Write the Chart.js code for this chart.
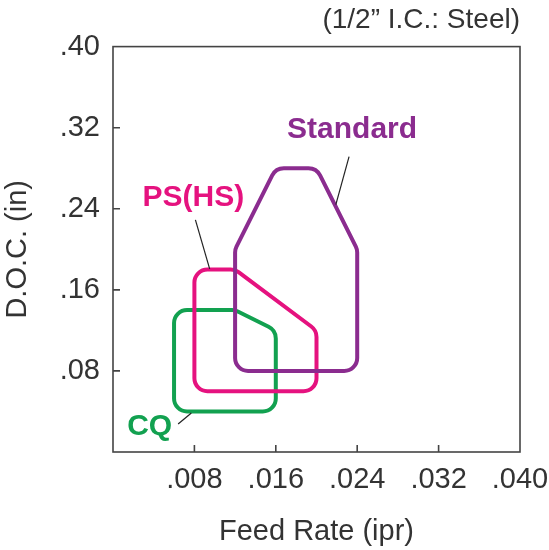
<!DOCTYPE html>
<html>
<head>
<meta charset="utf-8">
<script src="https://cdn.jsdelivr.net/npm/chart.js@4/dist/chart.umd.min.js"></script>
<style>
  html, body { margin: 0; padding: 0; background: #fff; }
</style>
</head>
<body>
<canvas id="chart" width="549" height="550"></canvas>
<script>
/* =========================
   DATA
========================= */
const xTicks = [0.008, 0.016, 0.024, 0.032, 0.040];
const xTickLabels = [".008", ".016", ".024", ".032", ".040"];
const yTicks = [0.08, 0.16, 0.24, 0.32, 0.40];
const yTickLabels = [".08", ".16", ".24", ".32", ".40"];

// outline vertices (feed rate ipr, depth of cut in)
const standardFeed = [0.012, 0.012, 0.016, 0.020, 0.024, 0.024];
const standardDoc = [0.08, 0.20, 0.28, 0.28, 0.20, 0.08];

const pshsFeed = [0.008, 0.008, 0.012, 0.020, 0.020];
const pshsDoc = [0.06, 0.18, 0.18, 0.12, 0.06];

const cqFeed = [0.006, 0.006, 0.012, 0.016, 0.016];
const cqDoc = [0.04, 0.14, 0.14, 0.12, 0.04];

const pts = (xs, ys) => xs.map((x, i) => ({ x: x, y: ys[i] }));

/* =========================
   LABELS + LEADER LINES
========================= */
const callouts = [
  { text: "Standard", color: "#8B2C8F", at: [0.0235, 0.318], line: [[0.0232, 0.2914], [0.0219, 0.2440]] },
  { text: "PS(HS)", color: "#E5127F", at: [0.0079, 0.251], line: [[0.0081, 0.2291], [0.0095, 0.1807]] },
  { text: "CQ", color: "#12A150", at: [0.0036, 0.025], line: [[0.0064, 0.0277], [0.0077, 0.0385]] }
];

Chart.defaults.font.family = '"Liberation Sans", Arial, Helvetica, sans-serif';
Chart.defaults.color = "#333";

// draws each outline as a closed polygon with rounded corners
const roundedOutline = {
  id: "roundedOutline",
  beforeDatasetDraw(chart, args) {
    const ds = chart.data.datasets[args.index];
    const p = args.meta.data;
    const n = p.length;
    const ctx = chart.ctx;
    ctx.save();
    ctx.beginPath();
    ctx.moveTo((p[n - 1].x + p[0].x) / 2, (p[n - 1].y + p[0].y) / 2);
    for (let i = 0; i < n; i++) {
      const a = p[i], b = p[(i + 1) % n];
      ctx.arcTo(a.x, a.y, b.x, b.y, ds.cornerRadius);
    }
    ctx.closePath();
    ctx.lineWidth = ds.borderWidth;
    ctx.strokeStyle = ds.borderColor;
    ctx.lineJoin = "round";
    ctx.stroke();
    ctx.restore();
    return false;
  }
};

// frame round the plot and small ticks pointing inward
const frameAndTicks = {
  id: "frameAndTicks",
  beforeDatasetsDraw(chart) {
    const { ctx, chartArea: a, scales: { x, y } } = chart;
    ctx.save();
    ctx.strokeStyle = "#444";
    ctx.lineWidth = 1.6;
    ctx.strokeRect(a.left, a.top, a.right - a.left, a.bottom - a.top);
    ctx.beginPath();
    x.ticks.forEach(t => {
      const px = x.getPixelForValue(t.value);
      if (px < a.right - 2) {
        ctx.moveTo(px, a.bottom);
        ctx.lineTo(px, a.bottom - 7);
      }
    });
    y.ticks.forEach(t => {
      const py = y.getPixelForValue(t.value);
      if (py > a.top + 2) {
        ctx.moveTo(a.left, py);
        ctx.lineTo(a.left + 7, py);
      }
    });
    ctx.stroke();
    ctx.restore();
  }
};

const calloutPlugin = {
  id: "callouts",
  afterDatasetsDraw(chart) {
    const { ctx, scales: { x, y } } = chart;
    ctx.save();
    callouts.forEach(c => {
      ctx.strokeStyle = "#222";
      ctx.lineWidth = 1.2;
      ctx.beginPath();
      ctx.moveTo(x.getPixelForValue(c.line[0][0]), y.getPixelForValue(c.line[0][1]));
      ctx.lineTo(x.getPixelForValue(c.line[1][0]), y.getPixelForValue(c.line[1][1]));
      ctx.stroke();

      ctx.fillStyle = c.color;
      ctx.font = 'bold 30px "Liberation Sans", Arial, sans-serif';
      ctx.textAlign = "center";
      ctx.textBaseline = "middle";
      ctx.fillText(c.text, x.getPixelForValue(c.at[0]), y.getPixelForValue(c.at[1]));
    });
    ctx.restore();
  }
};

new Chart(document.getElementById("chart"), {
  type: "scatter",
  data: {
    datasets: [
      { label: "Standard", data: pts(standardFeed, standardDoc), borderColor: "#8B2C8F", borderWidth: 4, cornerRadius: 13, pointRadius: 0, order: 1 },
      { label: "PS(HS)", data: pts(pshsFeed, pshsDoc), borderColor: "#E5127F", borderWidth: 4, cornerRadius: 13, pointRadius: 0, order: 2 },
      { label: "CQ", data: pts(cqFeed, cqDoc), borderColor: "#12A150", borderWidth: 4, cornerRadius: 13, pointRadius: 0, order: 3 }
    ]
  },
  options: {
    responsive: false,
    animation: false,
    layout: { padding: { left: 0, right: 29, top: 0, bottom: 0 } },
    plugins: {
      legend: { display: false },
      tooltip: { enabled: false },
      title: {
        display: true,
        text: "(1/2\u201D I.C.: Steel)",
        align: "end",
        color: "#333",
        font: { size: 28, weight: "normal" },
        padding: { top: 3, bottom: 10 }
      }
    },
    scales: {
      x: {
        type: "linear",
        min: 0,
        max: 0.040,
        afterBuildTicks: s => { s.ticks = xTicks.map(v => ({ value: v })); },
        afterFit: s => {
          s.height = 98;
          s.paddingLeft = 0;
          s.paddingRight = 0;
        },
        grid: { display: false, drawTicks: false },
        border: { display: false },
        ticks: {
          padding: 11,
          maxRotation: 0,
          autoSkip: false,
          font: { size: 29 },
          callback: (v, i) => xTickLabels[i]
        },
        title: { display: true, text: "Feed Rate (ipr)", font: { size: 29 }, padding: { top: 0, bottom: 1 } }
      },
      y: {
        type: "linear",
        min: 0,
        max: 0.40,
        afterBuildTicks: s => { s.ticks = yTicks.map(v => ({ value: v })); },
        afterFit: s => {
          s.width = 113;
          s.paddingTop = 0;
          s.paddingBottom = 0;
        },
        grid: { display: false, drawTicks: false },
        border: { display: false },
        ticks: {
          padding: 13,
          autoSkip: false,
          font: { size: 29 },
          callback: (v, i) => yTickLabels[i]
        },
        title: { display: true, text: "D.O.C. (in)", font: { size: 29 }, padding: { top: 1, bottom: 0 } }
      }
    }
  },
  plugins: [frameAndTicks, roundedOutline, calloutPlugin]
});
</script>
</body>
</html>
